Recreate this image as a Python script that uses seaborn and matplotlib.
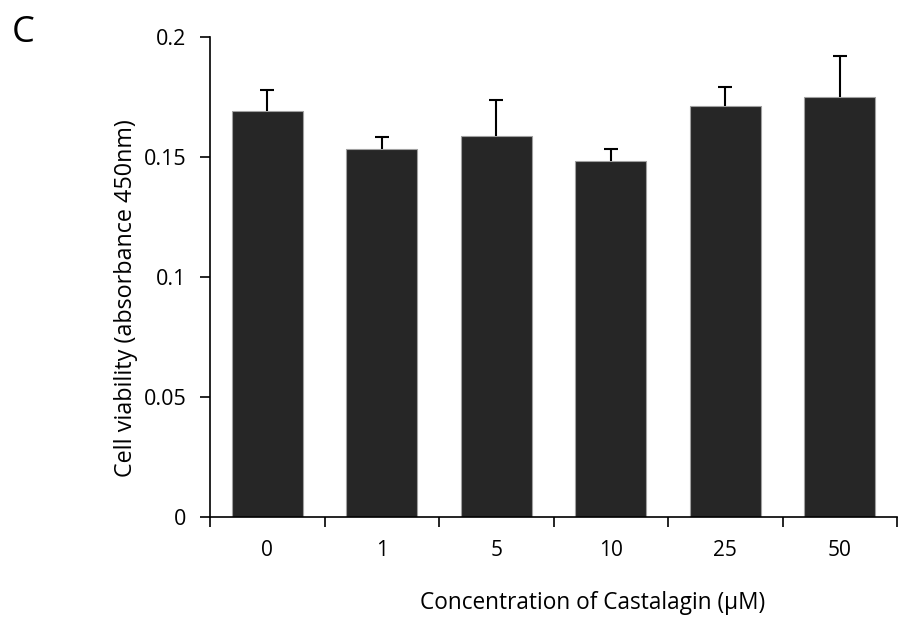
import matplotlib
matplotlib.use("Agg")
import matplotlib.pyplot as plt
import seaborn as sns
import pandas as pd
import numpy as np

concentrations = ["0", "1", "5", "10", "25", "50"]
viability = [0.1693, 0.1533, 0.1589, 0.1483, 0.1711, 0.1751]
errors = [0.0085, 0.0049, 0.0147, 0.0049, 0.0082, 0.0168]
ytick_vals = [0, 0.05, 0.1, 0.15, 0.2]
ytick_labels = ["0", "0.05", "0.1", "0.15", "0.2"]

sns.set_style("white")
plt.rcParams['font.family'] = ['Open Sans', 'DejaVu Sans']
plt.rcParams['text.color'] = 'black'
plt.rcParams['xtick.color'] = 'black'
plt.rcParams['ytick.color'] = 'black'
plt.rcParams['axes.labelcolor'] = 'black'

df = pd.DataFrame({"conc": concentrations, "val": viability})

fig = plt.figure(figsize=(9.01, 6.24), dpi=100)
ax = fig.add_axes([210/901, 1-517/624, (897-210)/901, (517-37)/624])

sns.barplot(data=df, x="conc", y="val", order=concentrations, color="#262626",
            saturation=1, width=0.62, edgecolor="#a0a0a0", linewidth=0.8,
            errorbar=None, ax=ax)
xpos = np.arange(len(concentrations))
eb = ax.errorbar(xpos, viability, yerr=[np.zeros(len(errors)), errors], fmt="none",
                 ecolor="black", elinewidth=1.5, capsize=5, capthick=1.5)
caplines = eb[1]
if len(caplines) == 2:
    caplines[0].set_visible(False)

ax.set_xlim(-0.5, 5.5)
ax.set_ylim(0, 0.2)
ax.set_yticks(ytick_vals)
ax.set_yticklabels(ytick_labels)
ax.set_xticks(xpos)
ax.set_xticklabels(concentrations)
ax.set_xticks(np.arange(-0.5, 6.0, 1.0), minor=True)
ax.tick_params(axis="x", which="major", length=0, pad=16.5, labelsize=15)
ax.tick_params(axis="x", which="minor", length=7, width=1.2, direction="out", bottom=True)
ax.tick_params(axis="y", which="major", length=7, width=1.2, direction="out", left=True,
               labelsize=15.5, pad=10)

for s in ["top", "right"]:
    ax.spines[s].set_visible(False)
for s in ["left", "bottom"]:
    ax.spines[s].set_color("black")
    ax.spines[s].set_linewidth(1.2)

ax.set_xlabel("Concentration of Castalagin (μM)", fontsize=16.3)
ax.set_ylabel("Cell viability (absorbance 450nm)", fontsize=16.8)
ax.xaxis.label.set_va("baseline")
ax.yaxis.label.set_va("baseline")
ax.xaxis.set_label_coords((593-210)/(897-210), -(609-517)/(517-37))
ax.yaxis.set_label_coords(-(210-132)/(897-210), (517-298.5)/(517-37))

fig.text(12/901, 1-33.5/624, "C", fontsize=26, va="center", ha="left")

fig.savefig("out.png", dpi=100)
